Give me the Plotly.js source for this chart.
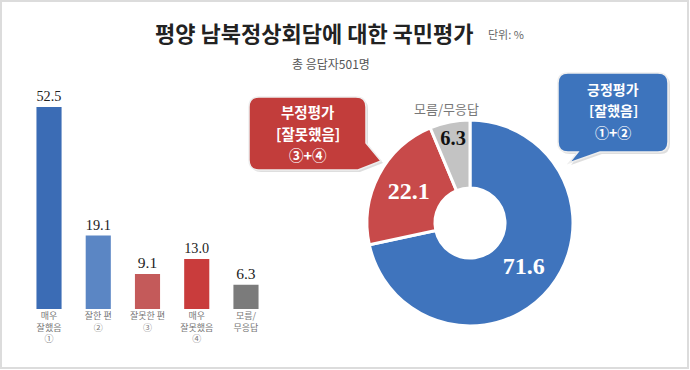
<!DOCTYPE html>
<html><head><meta charset="utf-8">
<script src="https://cdn.plot.ly/plotly-3.0.1.min.js"></script>
<style>html,body{margin:0;padding:0;background:#fff}#chart{width:690px;height:370px}</style>
</head><body><div id="chart"></div>
<script>
// ---- data ----
const barCategories = ['매우<br>잘했음<br>①', '잘한 편<br>②', '잘못한 편<br>③', '매우<br>잘못했음<br>④', '모름/<br>무응답'];
const barValues = [52.5, 19.1, 9.1, 13.0, 6.3];
const barColors = ['#3b6cb5', '#5b86c4', '#c45a5a', '#c93c3c', '#7b7b7b'];
const pieLabels = ['긍정평가', '부정평가', '모름/무응답'];
const pieValues = [71.6, 22.1, 6.3];
const pieColors = ['#3f74bd', '#c84a4a', '#c3c3c3'];
const pieTextColors = ['#ffffff', '#ffffff', '#111111'];
const titleText = '평양 남북정상회담에 대한 국민평가';
const unitText = '단위: %';
const subtitleText = '총 응답자501명';
const negText = ['부정평가', '[잘못했음]', '③+④'];
const posText = ['긍정평가', '[잘했음]', '①+②'];

// ---- helpers (pixel -> paper) ----
const W = 690, H = 370;
const px = x => x / W;
const py = y => 1 - y / H;
function pathOf(cmds) {
  return cmds.map(c => {
    if (c[0] === 'Z') return 'Z';
    const pts = [];
    for (let i = 1; i < c.length; i += 2) pts.push(px(c[i]).toFixed(5) + ',' + py(c[i + 1]).toFixed(5));
    return c[0] + pts.join(' ');
  }).join(' ');
}
const negBox = [['M',259,97],['L',356,97],['Q',366,97,366,107],['L',366,143],['L',381,161],['L',358,170],['L',259,170],['Q',249,170,249,160],['L',249,107],['Q',249,97,259,97],['Z']];
const posBox = [['M',568,73],['L',658,73],['Q',668,73,668,83],['L',668,142],['Q',668,152,658,152],['L',600,152],['L',569,163],['L',578,152],['L',568,152],['Q',558,152,558,142],['L',558,83],['Q',558,73,568,73],['Z']];
const shift = (cmds, dx, dy) => cmds.map(c => c[0] === 'Z' ? c : [c[0]].concat(c.slice(1).map((v, i) => i % 2 === 0 ? v + dx : v + dy)));

const KR = '"Noto Sans CJK KR", "Noto Sans", sans-serif';
const SERIF = '"Liberation Serif", "DejaVu Serif", serif';

const traces = [
  {
    type: 'bar', x: barCategories, y: barValues,
    marker: { color: barColors, line: { width: 0 } },
    texttemplate: '%{y:.1f}', textposition: 'outside', cliponaxis: false,
    textfont: { family: SERIF, size: 15.5, color: '#222' },
    hoverinfo: 'skip', xaxis: 'x', yaxis: 'y'
  },
  {
    type: 'pie', labels: pieLabels, values: pieValues, sort: false,
    direction: 'clockwise', rotation: 0, hole: 0.34,
    marker: { colors: pieColors, line: { color: '#ffffff', width: 3 } },
    textinfo: 'value', textposition: 'inside', insidetextorientation: 'horizontal',
    texttemplate: '<b>%{value:.1f}</b>',
    insidetextfont: { family: SERIF, size: 24, color: pieTextColors },
    domain: { x: [px(367), px(573)], y: [py(326), py(120)] },
    showlegend: false, hoverinfo: 'skip'
  }
];

const ann = (x, y, text, size, color, extra) => Object.assign({
  xref: 'paper', yref: 'paper', x: px(x), y: py(y), text: text, showarrow: false,
  xanchor: 'center', yanchor: 'middle', font: { family: KR, size: size, color: color }
}, extra || {});

const annotations = [
  ann(314, 32, '<b>' + titleText + '</b>', 22, '#222'),
  ann(486, 34, unitText, 11, '#666', { xanchor: 'left' }),
  ann(331, 63, subtitleText, 12, '#555'),
  ann(446, 108, pieLabels[2], 13, '#777')
];
const negY = [111, 133, 155], posY = [89.5, 110.5, 131.5];
negText.forEach((t, i) => annotations.push(ann(307.5, negY[i], '<b>' + t + '</b>', 14.5, '#ffffff')));
posText.forEach((t, i) => annotations.push(ann(613, posY[i], '<b>' + t + '</b>', 14, '#ffffff')));

const layout = {
  width: W, height: H, margin: { l: 0, r: 0, t: 0, b: 0 },
  paper_bgcolor: '#ffffff', plot_bgcolor: 'rgba(0,0,0,0)',
  showlegend: false, bargap: 0.49,
  xaxis: { domain: [px(24.4), px(270.6)], showgrid: false, zeroline: false, showline: false, ticks: '',
           tickfont: { family: KR, size: 9, color: '#777' }, fixedrange: true },
  yaxis: { domain: [py(309), py(78)], range: [0, 60], showgrid: false, zeroline: false, showline: false,
           showticklabels: false, ticks: '', fixedrange: true },
  shapes: [
    { type: 'rect', xref: 'paper', yref: 'paper', x0: px(1), x1: px(688), y0: py(368), y1: py(1),
      line: { color: '#dcdcdc', width: 2 }, fillcolor: 'rgba(0,0,0,0)', layer: 'below' },
    { type: 'path', xref: 'paper', yref: 'paper', path: pathOf(shift(negBox, 2, 2)), fillcolor: 'rgba(0,0,0,0.13)', line: { width: 0 } },
    { type: 'path', xref: 'paper', yref: 'paper', path: pathOf(negBox), fillcolor: '#c23d3b', line: { color: '#eeeeee', width: 1.5 } },
    { type: 'path', xref: 'paper', yref: 'paper', path: pathOf(shift(posBox, 2, 2)), fillcolor: 'rgba(0,0,0,0.13)', line: { width: 0 } },
    { type: 'path', xref: 'paper', yref: 'paper', path: pathOf(posBox), fillcolor: '#3d74bd', line: { color: '#eeeeee', width: 1.5 } }
  ],
  annotations: annotations
};

Plotly.newPlot('chart', traces, layout, { staticPlot: true, displayModeBar: false });
</script></body></html>
